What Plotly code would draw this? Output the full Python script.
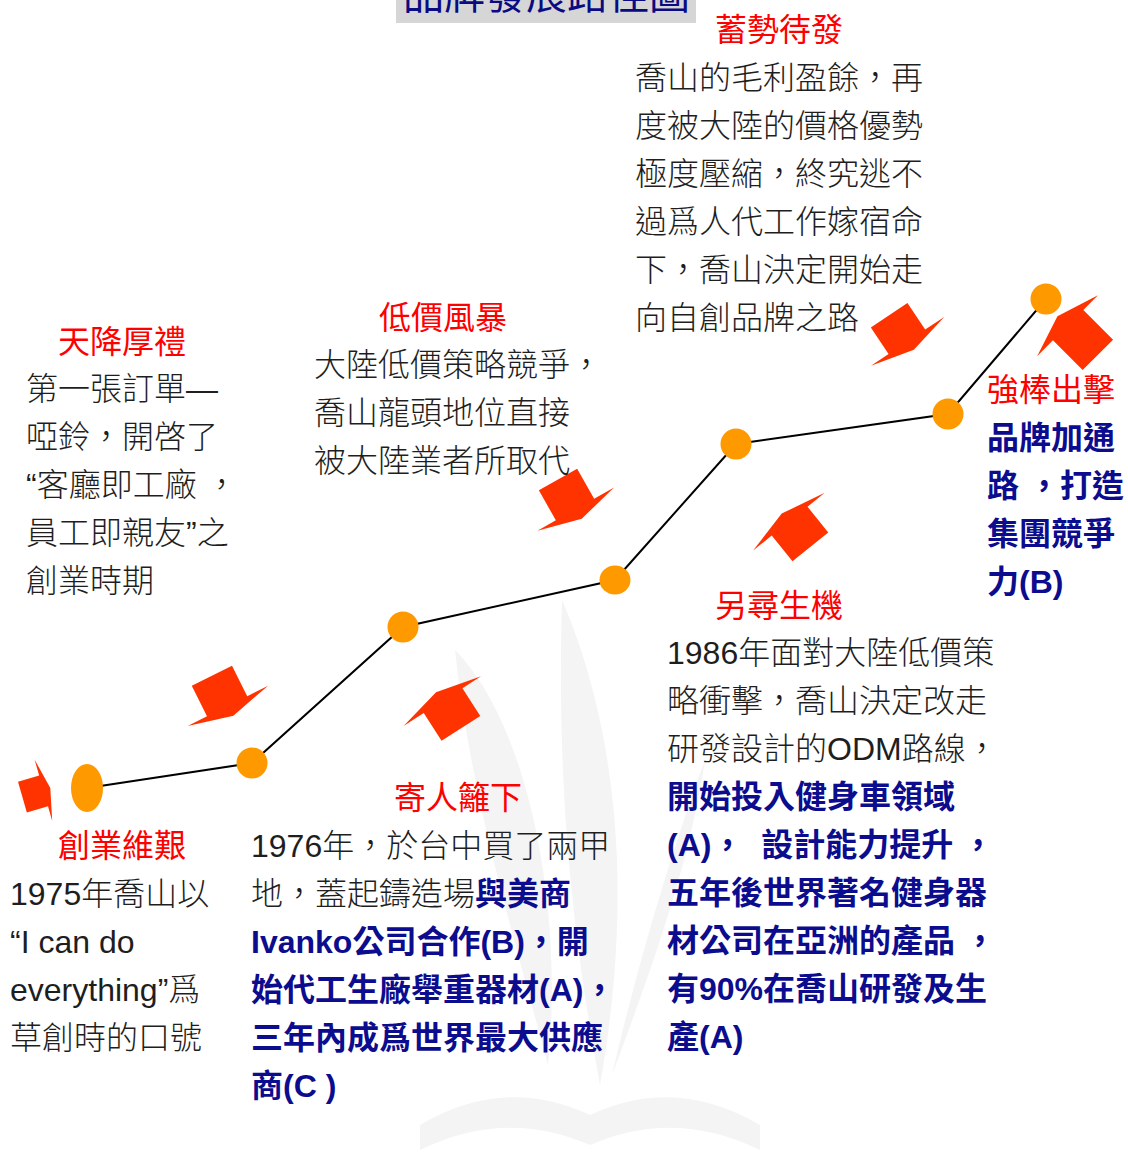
import math
import plotly.graph_objects as go

W_PX, H_PX = 1128, 1164

# ---------------- data ----------------
# milestone nodes on the growth path (canvas coordinates)
node_x = [87, 252, 403, 615, 736, 948, 1046]
node_y = [788, 763, 627, 580, 444, 414, 299]
node_rx = [16, 15.5, 15.5, 15.5, 15.5, 15.5, 15.5]
node_ry = [24, 15.5, 15.5, 14.5, 15.5, 15.5, 15.5]

# block arrows pointing at the milestones
arrow_cx = [33, 219.5, 452, 566.5, 800, 898, 1083]
arrow_cy = [794, 691, 714.5, 494.5, 534, 328.5, 340]
arrow_angle = [-16, 63.4, -122.7, 60.5, -128.9, 56.3, -135]
arrow_w = [32, 45, 46, 44, 46, 44, 43]
arrow_l = [22, 34, 33, 34.5, 33, 32, 42]

title_text = "品牌發展路徑圖"

stage_titles = ["創業維艱", "天降厚禮", "寄人籬下", "低價風暴", "另尋生機", "蓄勢待發", "強棒出擊"]

# each line: (normal text, emphasised text)
stage_lines = [
    [("1975年喬山以", ""), ("“I can do", ""), ("everything”爲", ""), ("草創時的口號", "")],
    [("第一張訂單—", ""), ("啞鈴，開啓了", ""), ("“客廳即工廠 ，", ""), ("員工即親友”之", ""), ("創業時期", "")],
    [("1976年，於台中買了兩甲", ""), ("地，蓋起鑄造場", "與美商"), ("", "Ivanko公司合作(B)，開"),
     ("", "始代工生廠舉重器材(A)，"), ("", "三年內成爲世界最大供應"), ("", "商(C )")],
    [("大陸低價策略競爭，", ""), ("喬山龍頭地位直接", ""), ("被大陸業者所取代", "")],
    [("1986年面對大陸低價策", ""), ("略衝擊，喬山決定改走", ""), ("研發設計的ODM路線，", ""),
     ("", "開始投入健身車領域"), ("", "(A)，\u00a0\u00a0設計能力提升\u00a0，"), ("", "五年後世界著名健身器"),
     ("", "材公司在亞洲的產品 ，"), ("", "有90%在喬山研發及生"), ("", "產(A)")],
    [("喬山的毛利盈餘，再", ""), ("度被大陸的價格優勢", ""), ("極度壓縮，終究逃不", ""),
     ("過爲人代工作嫁宿命", ""), ("下，喬山決定開始走", ""), ("向自創品牌之路", "")],
    [("", "品牌加通"), ("", "路 ，打造"), ("", "集團競爭"), ("", "力(B)")],
]

# ---------------- layout positions / styles ----------------
title_pos = [(122, 846, "center"), (122, 342, "center"), (458, 798, "center"), (443, 318, "center"),
             (779, 606, "center"), (779, 30, "center"), (985, 390, "left")]
lines_pos = [(8, 894), (24, 389), (249, 846), (312, 365), (665, 653), (633, 78), (985, 438)]
LINE_STEP = 48

FONT = "Liberation Sans, Noto Sans CJK TC, sans-serif"
RED = "#ff0000"
BLACK = "#1e1e1e"
BLUE = "#0c0c8e"
ORANGE = "#ff9900"
ARROW_RED = "#ff3300"
WM = "#f4f4f4"

fig = go.Figure()

# faint watermark (leaves + open book)
wm_paths = [
    "M 562 600 C 605 700, 640 860, 600 1085 C 575 950, 556 800, 562 600 Z",
    "M 455 650 C 525 720, 565 900, 548 1065 C 505 905, 470 790, 455 650 Z",
    "M 705 760 C 690 860, 655 960, 612 1075 C 640 955, 672 850, 705 760 Z",
    "M 420 1125 Q 505 1075 590 1115 Q 675 1075 760 1125 L 760 1150 Q 675 1108 590 1145 Q 505 1108 420 1150 Z",
]
shapes = []
for p in wm_paths:
    shapes.append(dict(type="path", path=p, xref="x", yref="y", fillcolor=WM,
                       line=dict(width=0), layer="below"))

# title box
shapes.append(dict(type="rect", xref="x", yref="y", x0=396, x1=696, y0=-30, y1=23,
                   fillcolor="#d6d6d6", line=dict(width=0), layer="below"))

# connecting line
fig.add_trace(go.Scatter(x=node_x, y=node_y, mode="lines",
                         line=dict(color="#000000", width=2), hoverinfo="skip", showlegend=False))

# arrows
local = [(0, 0), (1, 0), (1, 1), (1.52, 1), (0.53, 1.33), (-0.48, 1), (0, 1), (0, 0)]
for cx, cy, ang, w, l in zip(arrow_cx, arrow_cy, arrow_angle, arrow_w, arrow_l):
    t = math.radians(ang)
    e2 = (math.cos(t) * l, math.sin(t) * l)
    e1 = (math.sin(t) * w, -math.cos(t) * w)
    ax = cx - e1[0] / 2 - e2[0] / 2
    ay = cy - e1[1] / 2 - e2[1] / 2
    xs = [ax + a * e1[0] + b * e2[0] for a, b in local]
    ys = [ay + a * e1[1] + b * e2[1] for a, b in local]
    fig.add_trace(go.Scatter(x=xs, y=ys, mode="lines", fill="toself", fillcolor=ARROW_RED,
                             line=dict(width=0, color=ARROW_RED), hoverinfo="skip", showlegend=False))

# nodes
for x, y, rx, ry in zip(node_x, node_y, node_rx, node_ry):
    shapes.append(dict(type="circle", xref="x", yref="y", x0=x - rx, x1=x + rx, y0=y - ry, y1=y + ry,
                       fillcolor=ORANGE, line=dict(width=0), layer="above"))

annotations = []
annotations.append(dict(x=546, y=20, xref="x", yref="y", text=title_text, showarrow=False,
                        xanchor="center", yanchor="bottom",
                        font=dict(family=FONT, size=41, color="#0a0a82")))

for title, (tx, ty, anc), lines, (lx, ly) in zip(stage_titles, title_pos, stage_lines, lines_pos):
    annotations.append(dict(x=tx, y=ty, xref="x", yref="y", text=title, showarrow=False,
                            xanchor=anc, yanchor="middle", font=dict(family=FONT, size=32, color=RED)))
    for i, (plain, emph) in enumerate(lines):
        txt = ""
        if plain:
            txt += f"<span style='color:{BLACK}'>{plain}</span>"
        if emph:
            txt += f"<span style='color:{BLUE}'><b>{emph}</b></span>"
        annotations.append(dict(x=lx, y=ly + i * LINE_STEP, xref="x", yref="y", text=txt,
                                showarrow=False, xanchor="left", yanchor="middle",
                                font=dict(family=FONT, size=32, color=BLACK, weight=300)))

fig.update_layout(
    width=W_PX, height=H_PX,
    margin=dict(l=0, r=0, t=0, b=0),
    paper_bgcolor="white", plot_bgcolor="white",
    xaxis=dict(range=[0, W_PX], visible=False, fixedrange=True),
    yaxis=dict(range=[H_PX, 0], visible=False, fixedrange=True),
    shapes=shapes, annotations=annotations, showlegend=False,
)

fig.write_html("out.html", config={"displayModeBar": False})
